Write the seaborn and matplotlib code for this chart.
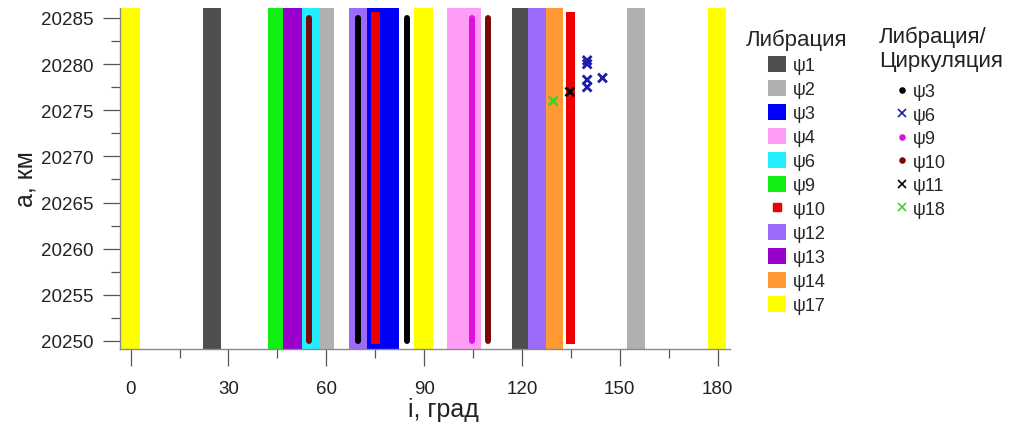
import numpy as np
import pandas as pd
import matplotlib
matplotlib.use('Agg')
import matplotlib.pyplot as plt
from matplotlib.patches import Patch
from matplotlib.lines import Line2D
import seaborn as sns

# ---------------------------------------------
# Data
# ---------------------------------------------
# libration zones: full-height bands over inclination i
band_psi = ['ψ17', 'ψ1', 'ψ9', 'ψ13', 'ψ6', 'ψ2', 'ψ12', 'ψ3', 'ψ17',
            'ψ4', 'ψ1', 'ψ12', 'ψ14', 'ψ2', 'ψ17']
band_lo = [-3.3, 22.1, 42.0, 46.8, 52.5, 57.8, 66.9, 72.6, 86.9,
           96.9, 117.0, 121.9, 127.3, 152.1, 177.1]
band_hi = [2.8, 27.7, 46.8, 52.5, 57.8, 62.4, 72.6, 82.4, 92.6,
           107.6, 121.9, 127.3, 132.5, 157.7, 182.7]

# ψ10 libration (red strips with limited a-range)
red_lo = [73.6, 133.4]
red_hi = [76.4, 136.4]
red_a0 = [20249.7, 20249.7]
red_a1 = [20285.6, 20285.6]

# libration/circulation: dense point columns
line_psi = ['ψ10', 'ψ3', 'ψ3', 'ψ9', 'ψ10']
line_i = [54.7, 69.6, 84.8, 104.7, 109.7]
line_a0 = [20250, 20250, 20250, 20250, 20250]
line_a1 = [20285, 20285, 20285, 20285, 20285]

# libration/circulation: isolated points
pts_psi = ['ψ6', 'ψ6', 'ψ6', 'ψ6', 'ψ6', 'ψ11', 'ψ18']
pts_i = [140.0, 140.0, 140.0, 140.0, 144.7, 134.7, 129.6]
pts_a = [20280.4, 20280.0, 20278.3, 20277.5, 20278.5, 20277.0, 20276.0]

lib_legend = ['ψ1', 'ψ2', 'ψ3', 'ψ4', 'ψ6', 'ψ9', 'ψ10', 'ψ12', 'ψ13', 'ψ14', 'ψ17']
circ_legend = ['ψ3', 'ψ6', 'ψ9', 'ψ10', 'ψ11', 'ψ18']

x_ticks = [0, 30, 60, 90, 120, 150, 180]
y_ticks = [20250, 20255, 20260, 20265, 20270, 20275, 20280, 20285]

# ---------------------------------------------
# Styles
# ---------------------------------------------
band_colors = {
    'ψ1': '#4f4f4f', 'ψ2': '#b0b0b0', 'ψ3': '#0000f5', 'ψ4': '#ff9cf5',
    'ψ6': '#22eeff', 'ψ9': '#11ee11', 'ψ10': '#ee0000', 'ψ12': '#9b6bfa',
    'ψ13': '#9900cc', 'ψ14': '#ff9933', 'ψ17': '#ffff00',
}
circ_colors = {
    'ψ3': '#000000', 'ψ6': '#1c1ca8', 'ψ9': '#e010e0', 'ψ10': '#7a0a0a',
    'ψ11': '#000000', 'ψ18': '#44cc33',
}
circ_markers = {'ψ3': 'o', 'ψ6': 'x', 'ψ9': 'o', 'ψ10': 'o', 'ψ11': 'x', 'ψ18': 'x'}

sns.set_theme(style='ticks')
plt.rcParams['font.family'] = ['Liberation Sans', 'DejaVu Sans']

fig = plt.figure(figsize=(10.09, 4.35), dpi=100)
W, H = 1009, 435
ax = fig.add_axes([120 / W, (H - 350) / H, 610 / W, 341 / H])

# bands
for psi, lo, hi in zip(band_psi, band_lo, band_hi):
    ax.axvspan(lo, hi, color=band_colors[psi], lw=0, zorder=1)

# red ψ10 strips
ax.bar(red_lo, np.subtract(red_a1, red_a0), width=np.subtract(red_hi, red_lo),
       bottom=red_a0, align='edge', color=band_colors['ψ10'], lw=0, zorder=2)

# point columns
for psi, x, a0, a1 in zip(line_psi, line_i, line_a0, line_a1):
    ax.plot([x, x], [a0, a1], color=circ_colors[psi], lw=4.3,
            solid_capstyle='round', zorder=3)

# isolated points
pts = pd.DataFrame({'i': pts_i, 'a': pts_a, 'psi': pts_psi})
sns.scatterplot(data=pts, x='i', y='a', hue='psi', style='psi',
                palette={k: circ_colors[k] for k in pts['psi'].unique()},
                markers={k: 'x' for k in pts['psi'].unique()},
                s=40, linewidth=2.0, legend=False, ax=ax, zorder=4)

ax.set_xlim(-3.25, 183.8)
ax.set_ylim(20249.13, 20286.08)
ax.set_xticks(x_ticks)
ax.set_xticks(np.arange(15, 180, 30), minor=True)
ax.set_yticks(y_ticks)
ax.set_yticks(np.arange(20252.5, 20285, 5), minor=True)
ax.set_yticklabels([str(v) for v in y_ticks])

sns.despine(ax=ax)
for s in ['left', 'bottom']:
    ax.spines[s].set_color('#8a8a8a')
    ax.spines[s].set_linewidth(1.0)
ax.tick_params(axis='both', which='major', length=12, width=0.9,
               color='#555555', labelsize=13.5, labelcolor='#222222')
ax.tick_params(axis='both', which='minor', length=6.5, width=0.9, color='#555555')
ax.tick_params(axis='x', which='major', pad=10)
ax.tick_params(axis='y', which='major', pad=7)

ax.set_xlabel('i, град', fontsize=18, color='#222222')
ax.set_ylabel('а, км', fontsize=18, color='#222222')
ax.xaxis.set_label_coords(0.530, -0.14)
ax.yaxis.set_label_coords(-0.135, 0.5)

# legend: libration
lib_handles = []
for psi in lib_legend:
    if psi == 'ψ10':
        lib_handles.append(Line2D([], [], ls='none', marker='s', ms=6,
                                  color=band_colors[psi]))
    else:
        lib_handles.append(Patch(facecolor=band_colors[psi], edgecolor='none'))
leg1 = fig.legend(lib_handles, lib_legend, title='Либрация', loc='upper left',
                  bbox_to_anchor=(737 / W, 1 - 21 / H), frameon=False,
                  fontsize=13, title_fontsize=16, borderpad=0,
                  handlelength=1.0, handleheight=1.0, handletextpad=0.4,
                  labelspacing=0.315)

# legend: libration / circulation
circ_handles = []
for psi in circ_legend:
    m = circ_markers[psi]
    circ_handles.append(Line2D([], [], ls='none', marker=m,
                               ms=3.5 if m == 'o' else 6, mew=1.2,
                               color=circ_colors[psi]))
fig.text(879 / W, 1 - 27 / H, 'Либрация/\nЦиркуляция', fontsize=16,
         ha='left', va='top', color='#222222', linespacing=1.15)
leg2 = fig.legend(circ_handles, circ_legend, loc='upper left',
                  bbox_to_anchor=(884 / W, 1 - 75 / H), frameon=False,
                  fontsize=13, borderpad=0, handlelength=1.0,
                  handletextpad=0.1, labelspacing=0.36)

fig.savefig('out.png', dpi=100)
